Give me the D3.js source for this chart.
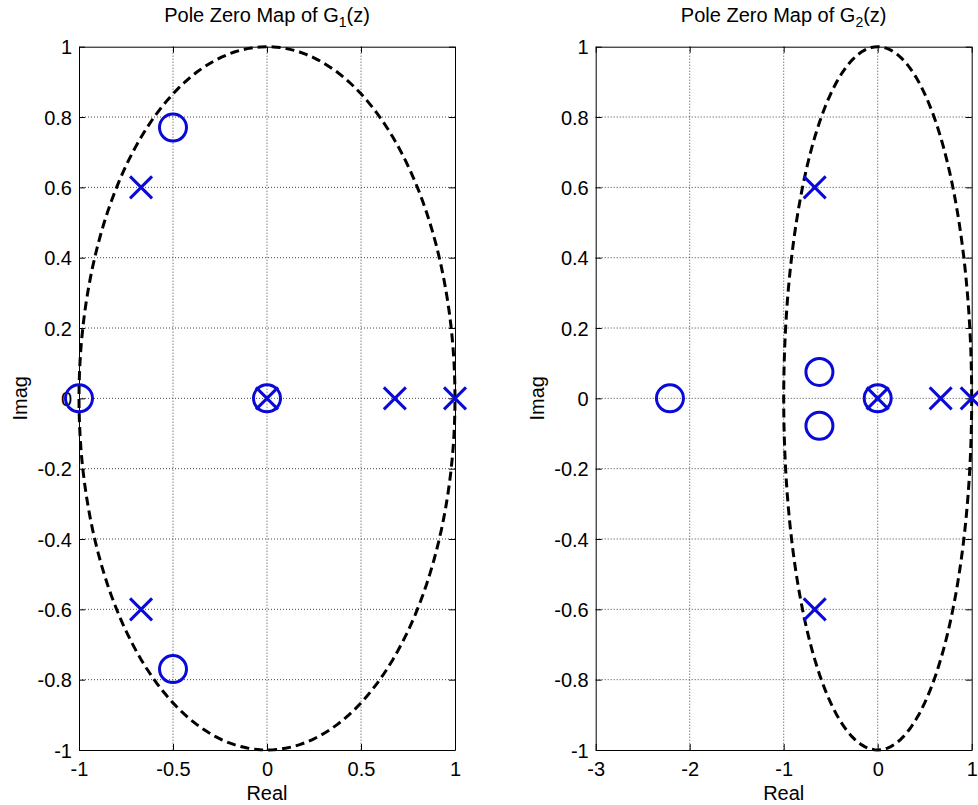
<!DOCTYPE html>
<html>
<head>
<meta charset="utf-8">
<script src="https://cdn.jsdelivr.net/npm/d3@7"></script>
<style>
  body { margin: 0; background: #fff; }
  svg { display: block; font-family: "Liberation Sans", Arial, sans-serif; }
</style>
</head>
<body>
<svg id="chart" width="978" height="805"></svg>
<script>
// pole / zero locations
const g1Poles = [[-0.67, 0.6], [-0.67, -0.6], [0, 0], [0.68, 0], [1, 0]];
const g1Zeros = [[-0.5, 0.77], [-0.5, -0.77], [-1, 0], [0, 0]];
const g2Poles = [[-0.67, 0.6], [-0.67, -0.6], [0, 0], [0.67, 0], [1, 0]];
const g2Zeros = [[-2.21, 0], [-0.62, 0.075], [-0.62, -0.078], [0, 0]];

const realTicks1 = [-1, -0.5, 0, 0.5, 1];
const realTicks2 = [-3, -2, -1, 0, 1];
const imagTicks = [-1, -0.8, -0.6, -0.4, -0.2, 0, 0.2, 0.4, 0.6, 0.8, 1];

const blue = "#0a0ad8";
const svg = d3.select("#chart");
const fmt = d => String(+d.toFixed(2));

// unit circle, sampled by angle
const circlePts = d3.range(0, 361, 2).map(a => [Math.cos(a * Math.PI / 180), Math.sin(a * Math.PI / 180)]);

function pzmap(left, sub, xDomain, xTicks, poles, zeros) {
    const top = 46.7, bottom = 750, width = 376;
    const x = d3.scaleLinear().domain(xDomain).range([left, left + width]);
    const y = d3.scaleLinear().domain([-1, 1]).range([bottom, top]);
    const g = svg.append("g");

    // grid
    g.selectAll(".gx").data(xTicks.slice(1, -1)).join("line")
        .attr("x1", d => x(d)).attr("x2", d => x(d))
        .attr("y1", top).attr("y2", bottom)
        .attr("stroke", "#444").attr("stroke-width", 1).attr("stroke-dasharray", "1,2");
    g.selectAll(".gy").data(imagTicks.slice(1, -1)).join("line")
        .attr("y1", d => y(d)).attr("y2", d => y(d))
        .attr("x1", left).attr("x2", left + width)
        .attr("stroke", "#444").attr("stroke-width", 1).attr("stroke-dasharray", "1,2");

    // axes with inward ticks
    const axB = g.append("g").attr("transform", `translate(0,${bottom})`)
        .call(d3.axisBottom(x).tickValues(xTicks).tickFormat(fmt).tickSizeInner(-6).tickSizeOuter(0).tickPadding(12));
    const axT = g.append("g").attr("transform", `translate(0,${top})`)
        .call(d3.axisTop(x).tickValues(xTicks).tickFormat("").tickSizeInner(-6).tickSizeOuter(0));
    const axL = g.append("g").attr("transform", `translate(${left},0)`)
        .call(d3.axisLeft(y).tickValues(imagTicks).tickFormat(fmt).tickSizeInner(-6).tickSizeOuter(0).tickPadding(7));
    const axR = g.append("g").attr("transform", `translate(${left + width},0)`)
        .call(d3.axisRight(y).tickValues(imagTicks).tickFormat("").tickSizeInner(-6).tickSizeOuter(0));
    [axB, axT, axL, axR].forEach(a => {
        a.select(".domain").attr("stroke", "#000").attr("stroke-width", 1);
        a.selectAll(".tick line").attr("stroke", "#000");
        a.selectAll("text").attr("font-size", 20).attr("fill", "#000")
            .attr("font-family", "Liberation Sans, Arial, sans-serif");
    });
    axB.selectAll("text").attr("dy", "0.71em");
    axL.selectAll("text").attr("dy", "0.35em");

    // dashed unit circle
    g.append("path").datum(circlePts)
        .attr("d", d3.line().x(d => x(d[0])).y(d => y(d[1])))
        .attr("fill", "none").attr("stroke", "#000").attr("stroke-width", 3)
        .attr("stroke-dasharray", "9,5");

    // zeros
    g.selectAll(".zero").data(zeros).join("circle")
        .attr("cx", d => x(d[0])).attr("cy", d => y(d[1])).attr("r", 13.5)
        .attr("fill", "none").attr("stroke", blue).attr("stroke-width", 3);

    // poles
    const s = 11;
    g.selectAll(".pole").data(poles).join("path")
        .attr("d", d => {
            const px = x(d[0]), py = y(d[1]);
            return `M${px - s},${py - s}L${px + s},${py + s}M${px - s},${py + s}L${px + s},${py - s}`;
        })
        .attr("fill", "none").attr("stroke", blue).attr("stroke-width", 3);

    // labels
    const cx = left + width / 2;
    const title = g.append("text").attr("x", cx).attr("y", 22).attr("text-anchor", "middle")
        .attr("font-size", 20).attr("fill", "#000");
    title.append("tspan").text("Pole Zero Map of G");
    title.append("tspan").text(sub).attr("font-size", 14).attr("dy", 5);
    title.append("tspan").text("(z)").attr("dy", -5);

    g.append("text").attr("x", cx).attr("y", 800).attr("text-anchor", "middle")
        .attr("font-size", 20).attr("fill", "#000").text("Real");
    g.append("text").attr("transform", `translate(${left - 52},${(top + bottom) / 2}) rotate(-90)`)
        .attr("text-anchor", "middle").attr("font-size", 20).attr("fill", "#000").text("Imag");
}

pzmap(79, "1", [-1, 1], realTicks1, g1Poles, g1Zeros);
pzmap(595.7, "2", [-3, 1], realTicks2, g2Poles, g2Zeros);
</script>
</body>
</html>
